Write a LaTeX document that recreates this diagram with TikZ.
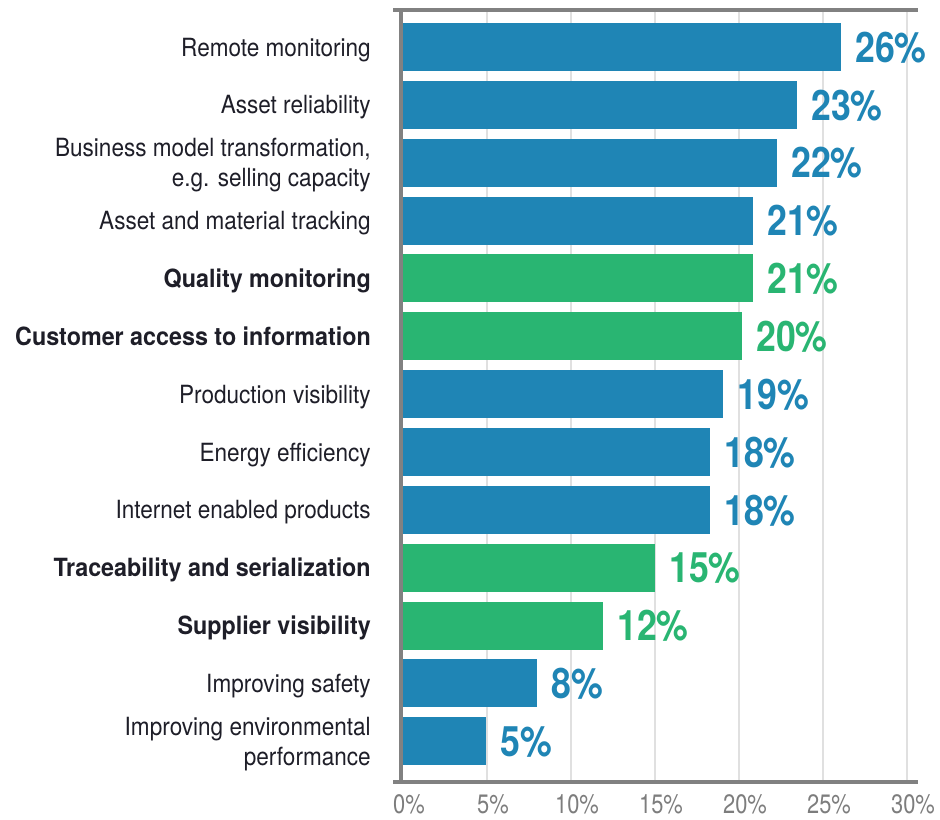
\documentclass[tikz,border=0pt]{standalone}
\usepackage{fontspec}
\setmainfont{TeX Gyre Heros}[FakeStretch=0.9]
\newfontfamily\boldlabfont{TeX Gyre Heros}[FakeStretch=0.93]
\newfontfamily\pctfont{TeX Gyre Heros}[FakeStretch=0.85]
\newfontfamily\tickfont{TeX Gyre Heros}[FakeStretch=0.82]
\usetikzlibrary{positioning}
\definecolor{barblue}{HTML}{1F85B5}
\definecolor{bargreen}{HTML}{29B572}
\definecolor{axisgray}{HTML}{818181}
\definecolor{gridgray}{HTML}{E0E0E0}
\definecolor{labtext}{HTML}{1E1E28}
\definecolor{ticktext}{HTML}{7D7D7D}

\begin{document}
\begin{tikzpicture}[x=0.75pt, y=-0.75pt,
        lab/.style={anchor=east, align=right, inner sep=0pt, text=labtext, text depth=0pt, font=\fontsize{18.8}{22.5}\selectfont},
        labbold/.style={lab, font=\fontsize{18.8}{22.5}\boldlabfont\bfseries},
        pct/.style={anchor=west, inner sep=0pt, text depth=0pt, font=\fontsize{31.5}{34}\pctfont\bfseries},
        tick/.style={inner sep=0pt, text depth=0pt, text=ticktext, font=\fontsize{20}{22}\tickfont},
        gridline/.style={draw=gridgray, line width=1.1pt},
        axisline/.style={draw=axisgray, line width=3.6pt}]
        \useasboundingbox (0,0) rectangle (940,819);

        % grid and scale
        \foreach \p in {5,10,...,30}
        \draw[gridline] (403+\p*16.8,10) -- (403+\p*16.8,782);
        \foreach \p in {0,5,...,30}
        \node[tick] (t\p) at (409+\p*16.8,804) {\p\%};

        % bars
        \foreach \i/\txt/\v/\len/\col/\st [evaluate=\i as \yy using 47+57.85*(\i-1)] in {
                1/{Remote monitoring}/26/26.07/barblue/lab,
                2/{Asset reliability}/23/23.45/barblue/lab,
                3/{Business model transformation,\\e.g. selling capacity}/22/22.26/barblue/lab,
                4/{Asset and material tracking}/21/20.83/barblue/lab,
                5/{Quality monitoring}/21/20.83/bargreen/labbold,
                6/{Customer access to information}/20/20.18/bargreen/labbold,
                7/{Production visibility}/19/19.05/barblue/lab,
                8/{Energy efficiency}/18/18.27/barblue/lab,
                9/{Internet enabled products}/18/18.27/barblue/lab,
                10/{Traceability and serialization}/15/15.0/bargreen/labbold,
                11/{Supplier visibility}/12/11.9/bargreen/labbold,
                12/{Improving safety}/8/7.98/barblue/lab,
                13/{Improving environmental\\performance}/5/4.94/barblue/lab}
        {
            \coordinate (a\i) at (403,\yy);
            \coordinate (e\i) at (403+\len*16.8,\yy);
            \fill[\col] (a\i) ++(0,-24) rectangle (e\i |- 0,\yy+24);
            \node[\st, left=24pt of a\i] (l\i) {\txt};
            \node[pct, text=\col, right=10.5pt of e\i] (v\i) {\v\%};
        }

        % frame
        \draw[axisline] (393,10) -- (918,10) (401,10) -- (401,782) (393,782) -- (918,782);
\end{tikzpicture}
\end{document}
